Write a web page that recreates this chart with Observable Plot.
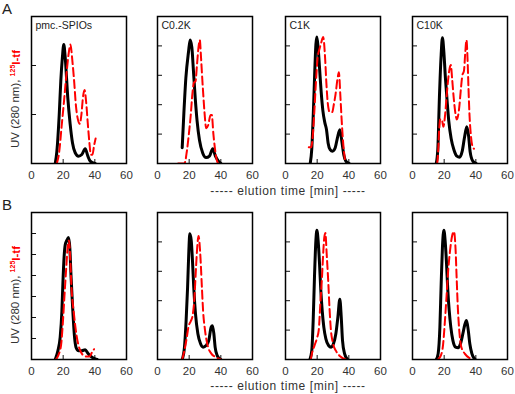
<!DOCTYPE html>
<html><head><meta charset="utf-8">
<script src="https://cdn.jsdelivr.net/npm/d3@7"></script>
<script src="https://cdn.jsdelivr.net/npm/@observablehq/plot@0.6"></script>
<style>
body{margin:0;background:#fff;font-family:"Liberation Sans",Arial,sans-serif;}
#wrap{position:relative;width:515px;height:394px;overflow:hidden;background:#fff;}
.panel{position:absolute;}
.abs{position:absolute;white-space:nowrap;color:#333;}
</style></head><body><div id="wrap"></div>
<script>
// ---- data (elution time [min], normalized signal 0..1 of panel height) ----
const titles = ["pmc.-SPIOs", "C0.2K", "C1K", "C10K"];
const xTicks = [0, 20, 40, 60];
const yDivsA = [3, 5, 5, 5];
const yDivsB = [7, 5, 5, 5];

const uvA1 = [[15,0],[16,.08],[17.5,.33],[18.5,.56],[19.5,.72],[20.4,.81],[21.3,.72],[22.9,.45],[24.4,.27],[25.9,.14],[27.6,.073],[29.7,.05],[31.8,.061],[33.9,.10],[35.6,.05],[37.1,.016],[40.2,0]];
const tfA1 = [[16,0],[17.5,.08],[19,.25],[20.5,.42],[22,.6],[23.5,.75],[24.6,.81],[25.8,.7],[27,.55],[28,.4],[29.3,.3],[30.5,.27],[31.5,.33],[32.5,.45],[33.5,.5],[34.5,.42],[35.5,.28],[36.5,.15],[37.5,.06],[38.5,.06],[39.5,.12],[40.5,.17]];
const uvA2 = [[15.6,.107],[16.6,.33],[17.9,.58],[19.6,.76],[20.6,.84],[21.7,.79],[22.7,.63],[23.8,.45],[25,.29],[26.5,.16],[28.6,.07],[30.7,.04],[32.8,.05],[34.9,.10],[36.6,.05],[38.5,.016],[40,0]];
const tfA2 = [[13,0],[17,0],[18.5,.08],[19.8,.2],[21,.33],[22,.47],[23,.55],[24,.56],[25,.68],[26,.8],[26.7,.84],[27.5,.72],[28.2,.59],[28.9,.47],[29.6,.36],[30.8,.24],[32,.26],[33.5,.33],[34.3,.33],[35.3,.2],[36.3,.1],[37.5,.02],[38.5,0]];
const uvA3 = [[15.6,0],[16.6,.1],[17.7,.38],[18.5,.63],[19.2,.81],[19.8,.86],[20.6,.79],[21.5,.65],[22.5,.49],[23.6,.36],[24.8,.28],[25.9,.23],[26.9,.14],[28.2,.095],[29.7,.084],[31.4,.107],[32.8,.175],[34.3,.23],[35.6,.15],[36.8,.06],[38.1,.016],[40.2,0]];
const tfA3 = [[14.7,.11],[16.2,.11],[17,.16],[18.2,.35],[19.2,.55],[20.3,.72],[21.5,.78],[22.5,.82],[23.8,.86],[25,.72],[25.8,.55],[26.7,.41],[27.9,.35],[29.5,.35],[30.5,.4],[31.6,.47],[32.9,.58],[33.7,.62],[34.7,.45],[35.5,.29],[36.5,.13],[37.5,.03]];
const uvA4 = [[15,0],[16,.1],[17,.45],[18.1,.74],[18.9,.855],[19.8,.76],[20.8,.58],[21.9,.42],[22.9,.29],[24.4,.17],[26.1,.095],[28,.05],[29.7,.043],[31.4,.084],[32.8,.175],[34.3,.25],[35.4,.19],[36.4,.08],[38.1,.016],[40.2,0]];
const tfA4 = [[15.6,0],[16.2,.08],[16.8,.22],[17.5,.3],[18.5,.3],[19.5,.25],[20.5,.32],[21.5,.45],[22.5,.57],[23.5,.65],[24.2,.67],[25,.58],[26,.45],[27,.35],[28,.3],[29.5,.38],[30.5,.5],[31.5,.6],[32.5,.63],[33.3,.75],[34.1,.84],[34.8,.7],[35.4,.5],[36,.33],[36.8,.2],[37.8,.12],[38.8,.1]];

const uvB1 = [[15,0],[16.7,.06],[18.1,.15],[19.2,.33],[19.8,.51],[20.6,.70],[21.3,.78],[22.3,.81],[23.4,.83],[24.2,.76],[25,.56],[26.1,.33],[27.2,.15],[28.2,.08],[29.7,.06],[31.8,.06],[33.9,.066],[35.6,.043],[37.7,.02],[40.2,.005],[41.5,0]];
const tfB1 = [[15.4,0],[17,.03],[18.7,.1],[19.8,.25],[20.8,.43],[21.8,.6],[23,.78],[23.7,.81],[24.4,.7],[25.2,.5],[26.7,.32],[28.5,.16],[30.8,.06],[32.5,.03],[34.5,.02],[36.5,.02],[38.3,.05],[39.5,.07]];
const uvB2 = [[15.6,0],[17,.08],[18.1,.27],[19,.49],[19.8,.74],[20.4,.855],[21.3,.81],[22.1,.67],[22.9,.49],[24,.31],[25.5,.175],[27.2,.107],[28.8,.084],[30.7,.095],[32.4,.13],[33.9,.22],[34.7,.23],[35.6,.175],[36.4,.084],[37.7,.027],[40,0]];
const tfB2 = [[15.6,0],[17,.06],[18.5,.15],[19.5,.22],[21,.26],[22.2,.3],[23.2,.4],[24.2,.6],[25,.75],[25.9,.84],[27,.72],[28,.5],[28.8,.33],[30,.2],[31.8,.09],[34,.04],[37,.015],[40,0]];
const uvB3 = [[15.4,0],[16.6,.06],[17.5,.27],[18.3,.56],[19.2,.81],[19.8,.88],[20.6,.81],[21.5,.65],[22.3,.47],[23.2,.33],[24.2,.22],[25.5,.14],[27.2,.095],[28.8,.084],[30.3,.107],[31.8,.175],[33.1,.29],[34.3,.41],[35.2,.29],[36,.13],[37.3,.04],[39.2,0]];
const tfB3 = [[16,0],[16.7,.04],[18.5,.1],[20,.15],[21,.2],[22,.38],[23,.55],[23.8,.72],[24.5,.83],[25.2,.86],[26,.72],[27,.53],[27.8,.35],[28.6,.21],[30,.11],[31.8,.06],[34.7,.02],[38,0]];
const uvB4 = [[15,0],[16.2,.04],[17.3,.22],[18.1,.51],[18.9,.76],[19.8,.88],[20.6,.81],[21.5,.65],[22.3,.47],[23.2,.33],[24.2,.22],[25.5,.13],[27.2,.084],[28.8,.08],[30.3,.107],[31.8,.175],[33.1,.24],[34.1,.265],[35.2,.2],[36.2,.107],[37.5,.04],[39.6,0]];
const tfB4 = [[16,0],[18,.03],[19.3,.1],[20.4,.25],[21.5,.43],[22.5,.6],[23.6,.73],[25,.84],[26.2,.87],[27.2,.75],[27.9,.55],[28.6,.36],[29.6,.19],[30.7,.09],[33,.04],[36,.01],[38,0]];

// ---- layout ----
const frameLefts = [31, 157, 285, 412];
const rowTops = [16, 212];
const captionTops = [185, 380];
const ML = 8, MR = 7, MT = 2, MB = 21, FW = 95, FH = 147;
const FONT = "'Liberation Sans', Arial, sans-serif";

function panel(uv, tf, divs, title) {
  return Plot.plot({
    width: ML + FW + MR, height: MT + FH + MB,
    marginLeft: ML, marginRight: MR, marginTop: MT, marginBottom: MB,
    style: {fontFamily: FONT, fontSize: "11px", color: "#222", background: "transparent", overflow: "visible"},
    x: {domain: [0, 60]},
    y: {domain: [0, 1]},
    marks: [
      Plot.axisY({ticks: d3.range(1, divs).map(i => i / divs), tickSize: -5, fill: "none", label: null, stroke: "#111"}),
      Plot.axisX({ticks: [20, 40], tickSize: -4, fill: "none", label: null, stroke: "#111"}),
      Plot.axisX({ticks: xTicks, tickSize: 0, tickPadding: 7, label: null, fill: "#333", fontSize: 11.5}),
      Plot.line(uv, {x: d => d[0], y: d => d[1], stroke: "black", strokeWidth: 3, curve: "monotone-x", clip: true}),
      Plot.line(tf, {x: d => d[0], y: d => d[1], stroke: "#f00", strokeWidth: 2, strokeDasharray: "8,4", curve: "monotone-x", clip: true}),
      Plot.frame({stroke: "black", strokeWidth: 1.5}),
      title ? Plot.text([title], {frameAnchor: "top-left", dx: 4, dy: 5, textAnchor: "start", lineAnchor: "top", fontSize: 10.5, fill: "#222"}) : null
    ]
  });
}

const wrap = document.getElementById("wrap");
const rows = [
  {uv: [uvA1, uvA2, uvA3, uvA4], tf: [tfA1, tfA2, tfA3, tfA4], divs: yDivsA, titles: titles, letter: "A"},
  {uv: [uvB1, uvB2, uvB3, uvB4], tf: [tfB1, tfB2, tfB3, tfB4], divs: yDivsB, titles: [null, null, null, null], letter: "B"}
];
rows.forEach((row, r) => {
  for (let i = 0; i < 4; i++) {
    const el = panel(row.uv[i], row.tf[i], row.divs[i], row.titles[i]);
    el.classList.add("panel");
    el.style.left = (frameLefts[i] - ML) + "px";
    el.style.top = (rowTops[r] - MT) + "px";
    wrap.appendChild(el);
  }
  const L = document.createElement("div");
  L.className = "abs";
  L.style.cssText += `left:2px;top:${rowTops[r] - 15}px;font-size:15px;line-height:15px;color:#222;`;
  L.textContent = row.letter;
  wrap.appendChild(L);
  const Y = document.createElement("div");
  Y.className = "abs";
  Y.style.cssText += `left:13.5px;top:${rowTops[r] + FH / 2 + 9}px;font-size:11.5px;line-height:12px;transform:translate(-50%,-50%) rotate(-90deg);`;
  Y.innerHTML = `UV (280 nm), <span style="color:#f00;font-weight:bold;"><sup style="font-size:7px;">125</sup>I-tf</span>`;
  wrap.appendChild(Y);
  const C = document.createElement("div");
  C.className = "abs";
  C.style.cssText += `left:288px;top:${captionTops[r]}px;font-size:12px;line-height:13px;letter-spacing:0.6px;transform:translateX(-50%);`;
  C.textContent = "----- elution time [min] -----";
  wrap.appendChild(C);
});
</script>
</body></html>
